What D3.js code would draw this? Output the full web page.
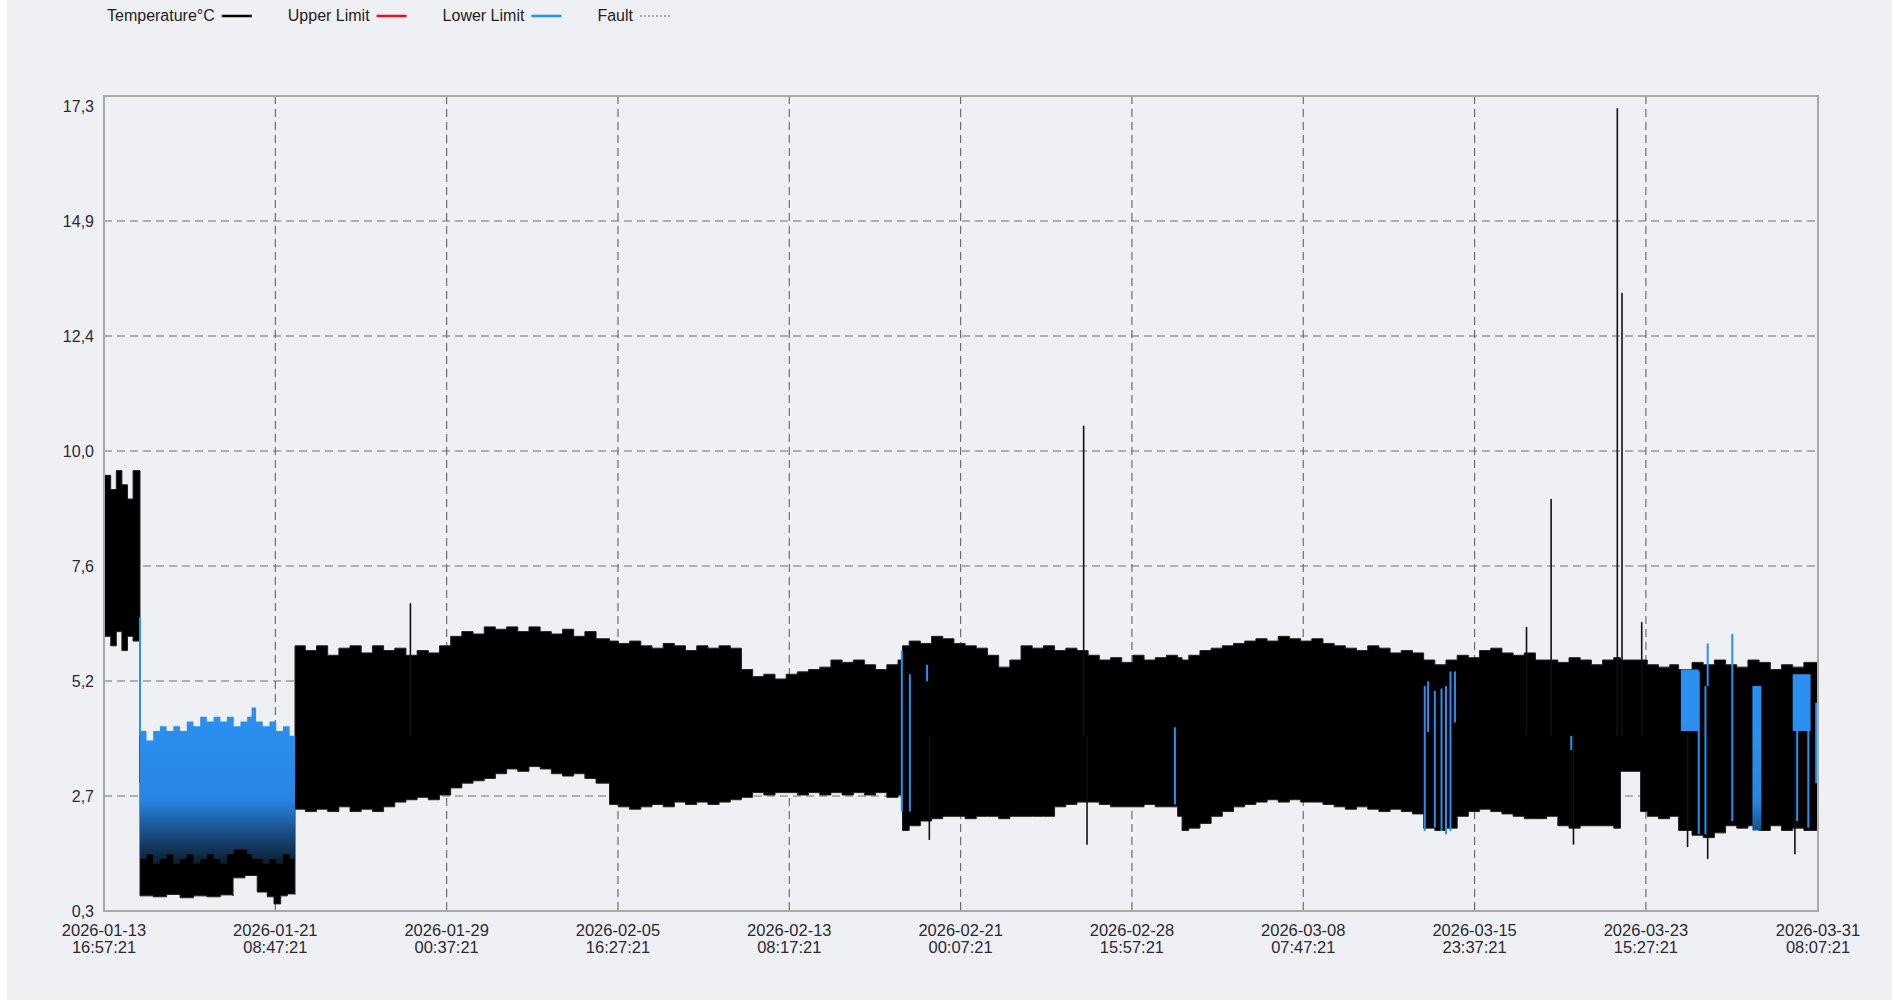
<!DOCTYPE html>
<html>
<head>
<meta charset="utf-8">
<script src="https://cdn.jsdelivr.net/npm/d3@7"></script>
<style>
  html, body { margin: 0; padding: 0; background: #fff; }
  svg { display: block; font-family: "Liberation Sans", Arial, sans-serif; }
</style>
</head>
<body>
<svg id="chart" width="1892" height="1000"></svg>
<script>
(function () {
    const START = "2026-01-13 16:57:21";

    const xTickTimes = [
        "2026-01-13 16:57:21", "2026-01-21 08:47:21", "2026-01-29 00:37:21",
        "2026-02-05 16:27:21", "2026-02-13 08:17:21", "2026-02-21 00:07:21",
        "2026-02-28 15:57:21", "2026-03-08 07:47:21", "2026-03-15 23:37:21",
        "2026-03-23 15:27:21", "2026-03-31 08:07:21"
    ];
    const yTickValues = [0.3, 2.729, 5.157, 7.586, 10.014, 12.443, 14.871, 17.3];
    const yTickLabels = ["0,3", "2,7", "5,2", "7,6", "10,0", "12,4", "14,9", "17,3"];

    const legendLabels = ["Temperature°C", "Upper Limit", "Lower Limit", "Fault"];
    const legendColors = ["#000000", "#e8101c", "#2b8ff0", "#a8a8a8"];

    // temperature envelope: days since start, max and min of the readings
    const bandDay = [
        0, 0.3, 0.55, 0.8, 1.05, 1.3, 1.61,
        1.61, 2.2, 2.8, 3.4, 4.0, 4.6, 5.2, 5.77,
        5.77, 6.3, 6.85, 6.85, 7.3, 7.6, 7.9, 8.2, 8.54, 8.54,
        9, 9.5, 10, 10.5, 11, 11.5, 12, 12.5, 13, 13.5, 14, 14.5, 15, 15.5,
        16, 16.5, 17, 17.5, 18, 18.5, 19, 19.5, 20, 20.5, 21, 21.5, 22, 22.6,
        22.6, 23, 23.5, 24, 24.5, 25, 25.5, 26, 26.5, 27, 27.5, 28, 28.5, 28.5,
        29, 29.5, 30, 30.5, 31, 31.5, 32, 32.5, 33, 33.5, 34, 34.5, 35, 35.5, 35.7,
        35.7, 36, 36.5, 37, 37.5, 38, 38.5, 39, 39.5, 40, 40.5, 41, 41.5, 42, 42.5,
        43, 43.5, 44, 44.5, 45, 45.5, 46, 46.5, 47, 47.5, 48, 48.2, 48.2, 48.5,
        49, 49.5, 50, 50.5, 51, 51.5, 52, 52.5, 53, 53.5, 54, 54.5, 55, 55.5,
        56, 56.5, 57, 57.5, 58, 58.5, 59, 59, 59.5, 60, 60.5, 61, 61.5, 62,
        62.5, 63, 63.5, 64, 64.5, 65, 65.5, 66, 66.5, 67, 67.5, 67.8, 67.8, 68.7,
        68.7, 69, 69.5, 70, 70.4, 70.4, 71, 71.5, 72, 72.5, 73, 73.5, 74,
        74.5, 75, 75.5, 76, 76.63
    ];
    const bandHi = [
        9.5, 9.2, 9.6, 9.3, 9.0, 9.6, 9.4,
        3.0, 3.0, 3.0, 3.0, 3.0, 3.0, 3.0, 3.0,
        3.0, 3.0, 3.0, 3.0, 3.0, 3.0, 3.0, 3.0, 3.0, 5.9,
        5.8, 5.9, 5.7, 5.85, 5.9, 5.75, 5.9, 5.8, 5.85, 5.7, 5.8, 5.75, 5.9, 6.1,
        6.2, 6.15, 6.3, 6.25, 6.3, 6.2, 6.3, 6.2, 6.15, 6.25, 6.1, 6.2, 6.05, 6.0,
        6.0, 5.95, 6.0, 5.9, 5.85, 5.95, 5.9, 5.8, 5.9, 5.85, 5.9, 5.85, 5.85, 5.4,
        5.25, 5.3, 5.2, 5.3, 5.35, 5.4, 5.45, 5.6, 5.55, 5.6, 5.5, 5.4, 5.5, 5.6, 5.6,
        5.9, 6.0, 5.95, 6.1, 6.05, 5.95, 5.9, 5.85, 5.7, 5.45, 5.6, 5.9, 5.85, 5.9, 5.8,
        5.85, 5.8, 5.7, 5.6, 5.65, 5.55, 5.7, 5.6, 5.65, 5.7, 5.65, 5.6, 5.6, 5.7,
        5.8, 5.85, 5.9, 5.95, 6.0, 6.05, 6.0, 6.1, 6.05, 6.0, 6.05, 5.95, 5.9, 5.85,
        5.8, 5.9, 5.85, 5.75, 5.8, 5.75, 5.7, 5.6, 5.5, 5.6, 5.7, 5.65, 5.8, 5.85,
        5.75, 5.7, 5.75, 5.6, 5.6, 5.55, 5.65, 5.6, 5.5, 5.6, 5.65, 5.6, 5.6, 5.6,
        5.6, 5.5, 5.45, 5.5, 5.4, 5.4, 5.55, 5.5, 5.6, 5.5, 5.45, 5.6, 5.55,
        5.4, 5.5, 5.45, 5.55, 5.55
    ];
    const bandLo = [
        6.1, 5.9, 6.2, 5.8, 6.1, 6.0, 5.9,
        0.62, 0.6, 0.65, 0.58, 0.62, 0.6, 0.64, 0.62,
        1.0, 1.05, 1.0, 0.7, 0.6, 0.45, 0.62, 0.66, 0.65, 2.45,
        2.4, 2.45, 2.4, 2.5, 2.4, 2.45, 2.4, 2.5, 2.6, 2.65, 2.7, 2.65, 2.75, 2.9,
        3.0, 3.05, 3.1, 3.2, 3.3, 3.25, 3.35, 3.3, 3.2, 3.15, 3.2, 3.1, 3.0, 3.0,
        2.55, 2.5, 2.45, 2.5, 2.55, 2.5, 2.6, 2.55, 2.6, 2.55, 2.6, 2.65, 2.65, 2.7,
        2.8, 2.75, 2.8, 2.8, 2.75, 2.8, 2.75, 2.8, 2.75, 2.8, 2.75, 2.8, 2.7, 2.75, 2.75,
        2.0, 2.1, 2.2, 2.25, 2.3, 2.3, 2.25, 2.3, 2.3, 2.25, 2.3, 2.3, 2.3, 2.3, 2.5,
        2.55, 2.6, 2.6, 2.55, 2.5, 2.5, 2.5, 2.55, 2.5, 2.5, 2.3, 2.3, 2.0, 2.05,
        2.15, 2.3, 2.4, 2.5, 2.55, 2.6, 2.65, 2.6, 2.65, 2.6, 2.6, 2.55, 2.5, 2.45,
        2.5, 2.45, 2.4, 2.45, 2.4, 2.35, 2.35, 2.05, 2.0, 2.05, 2.3, 2.4, 2.45, 2.4,
        2.35, 2.3, 2.25, 2.25, 2.3, 2.1, 2.05, 2.1, 2.1, 2.1, 2.05, 2.05, 3.25, 3.25,
        2.4, 2.3, 2.25, 2.3, 2.3, 2.0, 1.9, 1.85, 1.95, 2.1, 2.05, 2.1, 2.0,
        2.1, 2.0, 2.05, 2.0, 2.0
    ];

    // lower-limit state (blue) periods, NaN closes a period
    const blueDay = [
        1.61, 1.9, 2.2, 2.5, 2.8, 3.1, 3.4, 3.7, 4.0, 4.3, 4.6, 4.9, 5.2, 5.5,
        5.8, 6.1, 6.4, 6.6, 6.8, 7.1, 7.4, 7.7, 8.0, 8.3, 8.54,
        70.5, 71.3, 73.7, 74.1, 75.5, 76.3
    ];
    const blueHi = [
        4.1, 3.9, 4.1, 4.2, 4.1, 4.2, 4.1, 4.3, 4.2, 4.4, 4.3, 4.4, 4.3, 4.4,
        4.2, 4.3, 4.4, 4.6, 4.3, 4.2, 4.3, 4.1, 4.2, 4.0, NaN,
        5.4, NaN, 5.05, NaN, 5.3, NaN
    ];
    const blueLo = [
        1.4, 1.5, 1.3, 1.4, 1.5, 1.3, 1.4, 1.5, 1.3, 1.4, 1.5, 1.4, 1.3, 1.5,
        1.6, 1.6, 1.5, 1.4, 1.4, 1.3, 1.4, 1.3, 1.5, 1.4, NaN,
        4.1, NaN, 2.0, NaN, 4.1, NaN
    ];

    // single blue readings (day, top, bottom)
    const blueLineDay = [1.61, 35.67, 36.03, 36.8, 47.88, 59.05, 59.2, 59.5, 59.8, 60.0, 60.2, 60.4, 65.6, 71.3, 71.6, 71.7, 72.8, 75.7, 76.2, 76.55];
    const blueLineTop = [6.5, 5.8, 5.3, 5.5, 4.18, 5.05, 5.15, 4.95, 5.0, 5.05, 5.36, 5.36, 4.0, 5.36, 5.05, 5.95, 6.15, 5.2, 5.2, 4.7];
    const blueLineBottom = [4.0, 2.4, 2.4, 5.15, 2.55, 1.99, 4.08, 2.06, 1.99, 1.92, 1.99, 4.28, 3.7, 1.92, 1.92, 5.05, 2.2, 2.2, 2.06, 3.0];

    // isolated temperature peaks and dips
    const spikeDay = [13.7, 43.8, 63.6, 64.7, 67.66, 67.87, 68.75, 36.9, 43.95, 65.7, 70.8, 71.7, 75.6];
    const spikeValue = [6.8, 10.55, 6.3, 9.0, 17.25, 13.35, 6.4, 1.8, 1.7, 1.7, 1.65, 1.4, 1.5];

    const parseTime = d3.utcParse("%Y-%m-%d %H:%M:%S");
    const t0 = parseTime(START);
    const toDate = d => new Date(t0.getTime() + d * 864e5);

    const svg = d3.select("#chart");
    const W = 1892, H = 1000;
    const frame = { left: 104, right: 1818, top: 96, bottom: 911 };

    svg.append("rect").attr("x", 7).attr("y", 0).attr("width", W - 7).attr("height", H).attr("fill", "#eff0f4");

    const x = d3.scaleUtc()
        .domain([t0, parseTime(xTickTimes[xTickTimes.length - 1])])
        .range([frame.left, frame.right]);
    const y = d3.scaleLinear()
        .domain([0.3, 17.3])
        .range([frame.bottom, 106]);

    const defs = svg.append("defs");
    defs.append("clipPath").attr("id", "plot-clip")
        .append("rect")
        .attr("x", frame.left).attr("y", frame.top)
        .attr("width", frame.right - frame.left).attr("height", frame.bottom - frame.top);

    const grad = defs.append("linearGradient")
        .attr("id", "blue-fade")
        .attr("gradientUnits", "userSpaceOnUse")
        .attr("x1", 0).attr("x2", 0)
        .attr("y1", y(4.3)).attr("y2", y(1.3));
    grad.append("stop").attr("offset", 0).attr("stop-color", "#2b8ff0");
    grad.append("stop").attr("offset", 0.55).attr("stop-color", "#2886e2");
    grad.append("stop").attr("offset", 1).attr("stop-color", "#0c1c2e");

    // grid
    const grid = svg.append("g").attr("class", "grid")
        .attr("stroke", "#6e6e6e").attr("stroke-width", 1.2).attr("stroke-dasharray", "8,5");
    grid.selectAll("line.gx")
        .data(xTickTimes.slice(1, -1))
        .enter().append("line")
        .attr("x1", d => x(parseTime(d))).attr("x2", d => x(parseTime(d)))
        .attr("y1", frame.top).attr("y2", frame.bottom);
    grid.selectAll("line.gy")
        .data(yTickValues.slice(1, -1))
        .enter().append("line")
        .attr("x1", frame.left).attr("x2", frame.right)
        .attr("y1", d => y(d)).attr("y2", d => y(d));

    const plot = svg.append("g").attr("clip-path", "url(#plot-clip)");

    const band = bandDay.map((d, i) => ({ day: d, hi: bandHi[i], lo: bandLo[i] }));
    const area = d3.area()
        .curve(d3.curveStepAfter)
        .x(d => x(toDate(d.day)))
        .y0(d => y(d.lo))
        .y1(d => y(d.hi));

    plot.append("path")
        .datum(band)
        .attr("fill", "#000")
        .attr("stroke", "#222")
        .attr("stroke-width", 1)
        .attr("d", area);

    plot.append("g").selectAll("line")
        .data(spikeDay.map((d, i) => ({ day: d, v: spikeValue[i] })))
        .enter().append("line")
        .attr("x1", d => x(toDate(d.day))).attr("x2", d => x(toDate(d.day)))
        .attr("y1", y(4)).attr("y2", d => y(d.v))
        .attr("stroke", "#111").attr("stroke-width", 1.6);

    // split the blue periods at the NaN markers
    const blueSegments = [];
    let seg = [];
    blueDay.forEach((d, i) => {
        if (isNaN(blueHi[i])) {
            if (seg.length) {
                const last = seg[seg.length - 1];
                seg.push({ day: d, hi: last.hi, lo: last.lo });
                blueSegments.push(seg);
            }
            seg = [];
        } else {
            seg.push({ day: d, hi: blueHi[i], lo: blueLo[i] });
        }
    });

    const blueArea = d3.area()
        .curve(d3.curveStepAfter)
        .x(d => x(toDate(d.day)))
        .y0(d => y(d.lo))
        .y1(d => y(d.hi));

    plot.append("g").selectAll("path")
        .data(blueSegments)
        .enter().append("path")
        .attr("fill", "url(#blue-fade)")
        .attr("d", blueArea);

    plot.append("g").selectAll("line")
        .data(blueLineDay.map((d, i) => ({ day: d, top: blueLineTop[i], bottom: blueLineBottom[i] })))
        .enter().append("line")
        .attr("x1", d => x(toDate(d.day))).attr("x2", d => x(toDate(d.day)))
        .attr("y1", d => y(d.bottom)).attr("y2", d => y(d.top))
        .attr("stroke", "#2b8ff0").attr("stroke-width", 2);

    // frame
    svg.append("rect")
        .attr("x", frame.left).attr("y", frame.top)
        .attr("width", frame.right - frame.left).attr("height", frame.bottom - frame.top)
        .attr("fill", "none").attr("stroke", "#a9a9a9").attr("stroke-width", 2);

    // y axis labels
    svg.append("g").selectAll("text")
        .data(yTickValues)
        .enter().append("text")
        .attr("x", frame.left - 10)
        .attr("y", d => y(d))
        .attr("dy", "0.35em")
        .attr("text-anchor", "end")
        .attr("font-size", 16)
        .attr("fill", "#2a2a33")
        .text((d, i) => yTickLabels[i]);

    // x axis labels, date over time
    const xl = svg.append("g").selectAll("text")
        .data(xTickTimes)
        .enter().append("text")
        .attr("text-anchor", "middle")
        .attr("font-size", 16.5)
        .attr("fill", "#2a2a33");
    xl.append("tspan")
        .attr("x", d => x(parseTime(d)))
        .attr("y", frame.bottom + 25)
        .text(d => d.split(" ")[0]);
    xl.append("tspan")
        .attr("x", d => x(parseTime(d)))
        .attr("y", frame.bottom + 42)
        .text(d => d.split(" ")[1]);

    // legend
    const legend = svg.append("g").attr("font-size", 16).attr("fill", "#222");
    let lx = 107;
    legendLabels.forEach((label, i) => {
        const t = legend.append("text").attr("x", lx).attr("y", 21).text(label);
        const w = t.node().getComputedTextLength();
        const sx = lx + w + 7;
        legend.append("line")
            .attr("x1", sx).attr("x2", sx + 30)
            .attr("y1", 16).attr("y2", 16)
            .attr("stroke", legendColors[i])
            .attr("stroke-width", i === 3 ? 2 : 2.5)
            .attr("stroke-dasharray", i === 3 ? "2,2" : null);
        lx = sx + 30 + 36;
    });
})();
</script>
</body>
</html>
